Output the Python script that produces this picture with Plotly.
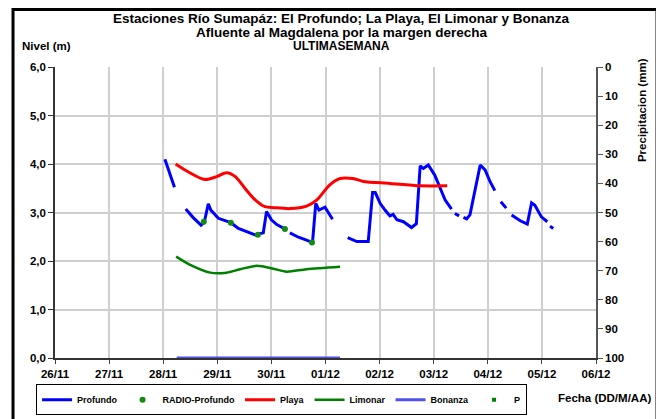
import plotly.graph_objects as go

# Datos (nivel en m, precipitación en mm)
profundo_t = [
    "2010-11-28 00:45", "2010-11-28 02:24", "2010-11-28 05:00", None,
    "2010-11-28 10:00", "2010-11-28 13:12", "2010-11-28 16:48", "2010-11-28 18:14",
    "2010-11-28 20:00", "2010-11-28 21:07", "2010-11-29 00:29", "2010-11-29 06:00",
    "2010-11-29 09:22", "2010-11-29 16:48", "2010-11-29 20:24", "2010-11-29 21:50",
    "2010-11-30 00:00", "2010-11-30 02:24", "2010-11-30 06:00", None,
    "2010-11-30 08:10", "2010-11-30 12:00", "2010-11-30 15:36", "2010-11-30 18:14",
    "2010-11-30 19:41", "2010-11-30 21:07", "2010-11-30 23:46", "2010-12-01 03:07", None,
    "2010-12-01 09:50", "2010-12-01 13:55", "2010-12-01 18:58", "2010-12-01 20:53",
    "2010-12-01 22:05", "2010-12-02 00:14", "2010-12-02 02:24", "2010-12-02 04:34",
    "2010-12-02 06:00", "2010-12-02 07:41", "2010-12-02 10:34", "2010-12-02 14:10",
    "2010-12-02 16:19", "2010-12-02 18:00", "2010-12-02 19:26", "2010-12-02 21:36",
    "2010-12-03 00:29", "2010-12-03 02:53", "2010-12-03 05:02", "2010-12-03 07:55", None,
    "2010-12-03 09:22", "2010-12-03 11:17", None,
    "2010-12-03 13:12", "2010-12-03 14:38", "2010-12-03 16:05", "2010-12-03 20:38",
    "2010-12-03 22:48", "2010-12-04 00:58", "2010-12-04 03:07", None,
    "2010-12-04 05:46", "2010-12-04 08:10", None,
    "2010-12-04 10:34", "2010-12-04 14:24", "2010-12-04 17:31", "2010-12-04 19:26",
    "2010-12-04 20:53", "2010-12-04 23:46", "2010-12-05 02:24", None,
    "2010-12-05 03:36", "2010-12-05 05:02",
]
profundo_nivel = [
    4.10, 3.87, 3.52, None,
    3.07, 2.90, 2.74, 2.80,
    3.18, 3.05, 2.88, 2.79,
    2.67, 2.54, 2.58, 3.02,
    2.85, 2.75, 2.66, None,
    2.58, 2.49, 2.43, 2.38,
    3.19, 3.05, 3.11, 2.86, None,
    2.48, 2.40, 2.40, 3.41,
    3.41, 3.19, 3.05, 2.93,
    2.96, 2.85, 2.81, 2.69,
    2.77, 3.96, 3.91, 3.98,
    3.77, 3.50, 3.26, 3.07, None,
    2.98, 2.93, None,
    2.90, 2.87, 2.95, 3.98,
    3.88, 3.64, 3.45, None,
    3.22, 3.09, None,
    2.95, 2.83, 2.76, 3.20,
    3.15, 2.91, 2.81, None,
    2.72, 2.67,
]

radio_t = ["2010-11-28 18:00", "2010-11-29 06:00", "2010-11-29 18:00",
           "2010-11-30 06:00", "2010-11-30 18:00"]
radio_nivel = [2.81, 2.79, 2.54, 2.66, 2.38]

playa_t = [
    "2010-11-28 05:30", "2010-11-28 11:00", "2010-11-28 18:30", "2010-11-28 23:45",
    "2010-11-29 04:05", "2010-11-29 08:00", "2010-11-29 12:15", "2010-11-29 16:48",
    "2010-11-29 21:07", "2010-11-30 01:12", "2010-11-30 08:10", "2010-11-30 15:36",
    "2010-11-30 20:10", "2010-12-01 01:55", "2010-12-01 06:29", "2010-12-01 12:14",
    "2010-12-01 16:48", "2010-12-02 04:34", "2010-12-02 18:00", "2010-12-03 06:00",
]
playa_nivel = [
    4.00, 3.84, 3.68, 3.74,
    3.82, 3.74, 3.50, 3.26,
    3.12, 3.10, 3.08, 3.13,
    3.26, 3.57, 3.70, 3.70,
    3.64, 3.60, 3.55, 3.55,
]

limonar_t = [
    "2010-11-28 05:45", "2010-11-28 12:00", "2010-11-28 20:53", "2010-11-29 04:05",
    "2010-11-29 10:05", "2010-11-29 17:31", "2010-11-30 00:58", "2010-11-30 06:43",
    "2010-11-30 15:36", "2010-12-01 06:29",
]
limonar_nivel = [2.09, 1.92, 1.76, 1.76, 1.83, 1.90, 1.84, 1.78, 1.83, 1.88]

bonanza_t = ["2010-11-28 06:00", "2010-12-01 06:29"]
bonanza_nivel = [0.0, 0.0]

# sin registros de precipitación en la semana
p_t = ["2010-11-28", "2010-11-29", "2010-11-30", "2010-12-01",
       "2010-12-02", "2010-12-03", "2010-12-04", "2010-12-05"]
p_mm = [None, None, None, None, None, None, None, None]

dias = ["2010-11-26", "2010-11-27", "2010-11-28", "2010-11-29", "2010-11-30", "2010-12-01",
        "2010-12-02", "2010-12-03", "2010-12-04", "2010-12-05", "2010-12-06"]

titulo = ["Estaciones Río Sumapáz: El Profundo; La Playa, El Limonar y Bonanza",
          "Afluente al Magdalena por la margen derecha",
          "ULTIMASEMANA"]

FONT = "Liberation Sans, Arial, sans-serif"
GRID = "#CFCFCF"
tick_font = dict(family=FONT, size=11.5, color="black", weight="bold")

fig = go.Figure()

fig.add_trace(go.Scatter(x=profundo_t, y=profundo_nivel, name="Profundo", mode="lines",
                         line=dict(color="#0000FF", width=3), connectgaps=False))
fig.add_trace(go.Scatter(x=radio_t, y=radio_nivel, name="RADIO-Profundo", mode="markers",
                         marker=dict(color="#138A13", size=6, symbol="circle")))
fig.add_trace(go.Scatter(x=playa_t, y=playa_nivel, name="Playa", mode="lines",
                         line=dict(color="#FF0000", width=3, shape="spline", smoothing=0.8)))
fig.add_trace(go.Scatter(x=limonar_t, y=limonar_nivel, name="Limonar", mode="lines",
                         line=dict(color="#008000", width=2.5, shape="spline", smoothing=0.8)))
fig.add_trace(go.Scatter(x=bonanza_t, y=bonanza_nivel, name="Bonanza", mode="lines",
                         line=dict(color="#5050F0", width=3)))
fig.add_trace(go.Scatter(x=p_t, y=p_mm, name="P", mode="markers", yaxis="y2",
                         marker=dict(color="#008000", size=4, symbol="square")))

# la página deja 8 px de margen en el body: se compensa con el tamaño
fig.update_layout(
    width=656, height=411,
    margin=dict(l=47, r=68, t=59, b=61, autoexpand=False),
    paper_bgcolor="white", plot_bgcolor="white",
    separators=",.",
    font=dict(family=FONT, size=11, color="black", weight="bold"),
    xaxis=dict(
        type="date", range=["2010-11-26", "2010-12-06"],
        tickvals=dias, tickformat="%d/%m",
        showgrid=True, gridcolor=GRID, gridwidth=1.5,
        showline=True, linecolor="#333", linewidth=1.5, zeroline=False,
        ticks="outside", ticklen=4, tickcolor="#444", layer="below traces",
        tickfont=tick_font,
    ),
    yaxis=dict(
        range=[0, 6], dtick=1, tickformat=".1f",
        showgrid=True, gridcolor=GRID, gridwidth=1.5,
        showline=True, linecolor="#333", linewidth=1.5, zeroline=False,
        ticks="outside", ticklen=5, tickcolor="#333",
        tickfont=tick_font,
    ),
    yaxis2=dict(
        overlaying="y", side="right", range=[100, 0], dtick=10,
        showgrid=False, zeroline=False,
        showline=True, linecolor="#555", linewidth=1.5,
        ticks="outside", ticklen=5, tickcolor="#555",
        tickfont=tick_font,
    ),
    legend=dict(
        orientation="h", x=-0.035, y=-0.09, xanchor="left", yanchor="top",
        bordercolor="black", borderwidth=1, bgcolor="white",
        font=dict(family=FONT, size=9, color="black", weight="bold"),
        itemwidth=30, tracegroupgap=0,
    ),
    showlegend=True,
)

# Recuadro exterior del gráfico
fig.add_shape(type="rect", xref="paper", yref="paper",
              x0=-0.0776, x1=1.1128, y0=-0.25, y1=1.1976,
              line=dict(color="black", width=3))

# Título en tres líneas
for texto, yy, tam in zip(titulo, [1.165, 1.117, 1.072], [13.5, 13.5, 12]):
    fig.add_annotation(text=texto, xref="paper", yref="paper", x=0.53, y=yy,
                       xanchor="center", yanchor="middle", showarrow=False,
                       font=dict(family=FONT, size=tam, weight="bold"))

fig.add_annotation(text="Nivel (m)", xref="paper", yref="paper", x=-0.0647, y=1.072,
                   xanchor="left", yanchor="middle", showarrow=False,
                   font=dict(family=FONT, size=11.5, weight="bold"))
fig.add_annotation(text="Precipitacion (mm)", xref="paper", yref="paper", x=1.085, y=0.852,
                   textangle=-90, xanchor="center", yanchor="middle", showarrow=False,
                   font=dict(family=FONT, size=11.5, weight="bold"))
fig.add_annotation(text="Fecha (DD/M/AA)", xref="paper", yref="paper", x=1.105, y=-0.1375,
                   xanchor="right", yanchor="middle", showarrow=False,
                   font=dict(family=FONT, size=11.5, weight="bold"))

fig.write_html("out.html")
